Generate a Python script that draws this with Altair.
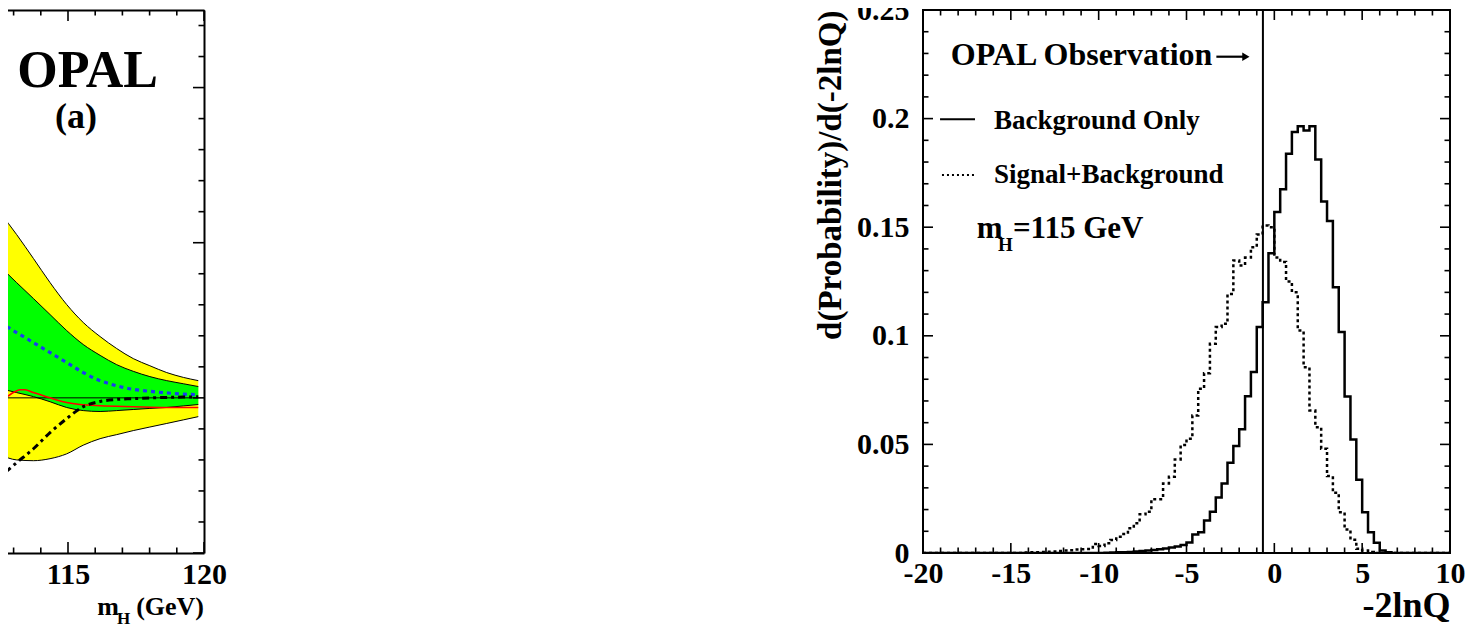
import altair as alt
import pandas as pd

FONT = "Liberation Serif"

# ---- panel (a): -2lnQ against m_H, only its right end is in the picture ----
MH = [112.50, 113.11, 113.73, 114.34, 114.95, 115.56, 116.18, 116.79, 117.40, 118.01, 118.63, 119.24, 119.79]
YELLOW_HI = [11.95, 10.53, 8.98, 7.43, 6.02, 4.86, 3.95, 3.18, 2.53, 2.07, 1.63, 1.32, 1.11]
GREEN_HI = [8.47, 7.43, 6.40, 5.37, 4.34, 3.44, 2.74, 2.14, 1.71, 1.37, 1.11, 0.91, 0.73]
GREEN_LO = [0.60, 0.34, 0.08, -0.25, -0.62, -0.82, -0.88, -0.82, -0.75, -0.68, -0.62, -0.52, -0.43]
YELLOW_LO = [-3.66, -4.00, -4.05, -3.92, -3.61, -3.05, -2.63, -2.37, -2.11, -1.88, -1.65, -1.42, -1.21]
EXP_BG = [4.86, 4.21, 3.56, 2.92, 2.28, 1.63, 1.11, 0.78, 0.55, 0.42, 0.32, 0.24, 0.21]
EXP_SB = [-5.10, -4.18, -3.28, -2.24, -1.34, -0.57, -0.23, -0.10, -0.05, 0.0, 0.03, 0.05, 0.07]
OBS_MH = [112.50, 112.75, 112.99, 113.24, 113.42, 113.73, 114.34, 114.95, 115.44, 116.18, 117.40, 118.63, 119.79]
OBS_Q = [-0.05, 0.08, 0.34, 0.52, 0.52, 0.34, 0.0, -0.30, -0.43, -0.51, -0.57, -0.62, -0.62]
ZERO_MH = [112.50, 119.79]
ZERO_Q = [0.0, 0.0]

MH_MAJOR = [115, 120]
MH_MINOR = [113, 114, 116, 117, 118, 119]
Q_MAJOR = [-10, 0, 10, 20]
Q_MINOR = [-8, -6, -4, -2, 2, 4, 6, 8, 12, 14, 16, 18, 22, 24]

# ---- panel (b): -2lnQ distributions for m_H = 115 GeV, bins of 1/3 from -20 ----
BIN_START = -20.0
BIN_WIDTH = 1 / 3
BG_ONLY = [
    0, 0, 0, 0, 0, 0, 0, 0, 0, 0,
    0, 0, 0, 0, 0, 0, 0, 0, 0, 0,
    0, 0, 0, 0, 0, 0, 0, 0, 0, 0,
    0.0, 0.0001, 0.0002, 0.0003, 0.0004, 0.0005, 0.0007, 0.0009, 0.0011, 0.0014,
    0.0017, 0.0021, 0.0025, 0.0030, 0.0037, 0.0048, 0.0085, 0.0095, 0.0150, 0.0190,
    0.0255, 0.0320, 0.0415, 0.0493, 0.0570, 0.0722, 0.0833, 0.1040, 0.1155, 0.1380,
    0.1570, 0.1675, 0.1838, 0.1938, 0.1965, 0.1945, 0.1965, 0.1812, 0.1618, 0.1528,
    0.1224, 0.1017, 0.0721, 0.0523, 0.0337, 0.0188, 0.0096, 0.0047, 0.0012, 0.0004,
    0, 0, 0, 0, 0, 0, 0, 0, 0, 0,
]
SIG_BG = [
    0, 0, 0, 0, 0, 0, 0, 0, 0, 0,
    0, 0, 0, 0, 0, 0, 0, 0.0002, 0.0003, 0.0004,
    0.0005, 0.0006, 0.0007, 0.0009, 0.0011, 0.0013, 0.0016, 0.0017, 0.0018, 0.0041,
    0.0032, 0.0045, 0.0060, 0.0075, 0.0087, 0.0114, 0.0137, 0.0178, 0.0190, 0.0248,
    0.0248, 0.0320, 0.0351, 0.0431, 0.0497, 0.0526, 0.0633, 0.0756, 0.0828, 0.0963,
    0.1040, 0.1055, 0.1193, 0.1347, 0.1324, 0.1360, 0.1408, 0.1466, 0.1508, 0.1500,
    0.1360, 0.1340, 0.1250, 0.1200, 0.1024, 0.0855, 0.0656, 0.0579, 0.0480, 0.0354,
    0.0277, 0.0188, 0.0108, 0.0061, 0.0019, 0.0012, 0.0005, 0, 0, 0,
    0, 0, 0, 0, 0, 0, 0, 0, 0, 0,
]
OBSERVED = -0.65

X_MAJOR = [-20, -15, -10, -5, 0, 5, 10]
X_MINOR = [-19, -18, -17, -16, -14, -13, -12, -11, -9, -8, -7, -6, -4, -3, -2, -1,
           1, 2, 3, 4, 6, 7, 8, 9]
Y_MAJOR = [0, 0.05, 0.1, 0.15, 0.2, 0.25]
Y_MINOR = [0.01, 0.02, 0.03, 0.04, 0.06, 0.07, 0.08, 0.09, 0.11, 0.12, 0.13, 0.14,
           0.16, 0.17, 0.18, 0.19, 0.21, 0.22, 0.23, 0.24]

LW, LH = 204, 543
RW, RH = 527, 543

LX = alt.Scale(domain=[112.5, 120], nice=False, zero=False)
LY = alt.Scale(domain=[-10, 25], nice=False, zero=False)
RX = alt.Scale(domain=[-20, 10], nice=False, zero=False)
RY = alt.Scale(domain=[0, 0.25], nice=False, zero=False)

ONE = pd.DataFrame({"_": [0]})


def xticks(values, scale, height, size, side):
    ends = (height, height - size) if side == "bottom" else (0, size)
    return alt.Chart(pd.DataFrame({"t": values})).mark_rule(color="black", strokeWidth=1.6).encode(
        x=alt.X("t:Q", scale=scale, axis=None),
        y=alt.value(ends[0]),
        y2=alt.value(ends[1]),
    )


def yticks(values, scale, width, size, side):
    ends = (0, size) if side == "left" else (width, width - size)
    return alt.Chart(pd.DataFrame({"t": values})).mark_rule(color="black", strokeWidth=1.6).encode(
        y=alt.Y("t:Q", scale=scale, axis=None),
        x=alt.value(ends[0]),
        x2=alt.value(ends[1]),
    )


def note(text, x, y, sx, sy, size, align="left"):
    return alt.Chart(ONE).mark_text(
        text=text, font=FONT, fontSize=size, fontWeight="bold", align=align,
        baseline="alphabetic", color="black"
    ).encode(
        x=alt.XDatum(x, scale=sx, axis=None),
        y=alt.YDatum(y, scale=sy, axis=None),
    )


# ---------------- left panel ----------------
band = pd.DataFrame({
    "mh": MH, "yhi": YELLOW_HI, "ghi": GREEN_HI, "glo": GREEN_LO, "ylo": YELLOW_LO,
    "bg": EXP_BG, "sb": EXP_SB,
})
frame = dict(domainColor="black", domainWidth=2, ticks=False, grid=False, title=None)

yellow = alt.Chart(band).mark_area(color="#ffff00", opacity=1, clip=True, interpolate="monotone").encode(
    x=alt.X("mh:Q", scale=LX, axis=alt.Axis(
        orient="bottom", values=MH_MAJOR, labelFont=FONT, labelFontSize=30, labelFontWeight="bold",
        labelColor="black", labelPadding=6, labelFlush=False, labelOverlap=False, **frame)),
    y=alt.Y("yhi:Q", scale=LY, axis=alt.Axis(orient="right", labels=False, **frame)),
    y2="ylo:Q",
)
green = alt.Chart(band).mark_area(color="#00ff00", opacity=1, clip=True, interpolate="monotone").encode(
    x=alt.X("mh:Q", scale=LX, axis=alt.Axis(orient="top", labels=False, **frame)),
    y=alt.Y("ghi:Q", scale=LY, axis=None),
    y2="glo:Q",
)
edges = alt.Chart(band).transform_fold(["yhi", "ghi", "glo", "ylo"]).mark_line(
    color="black", strokeWidth=1, clip=True, interpolate="monotone"
).encode(
    x=alt.X("mh:Q", scale=LX, axis=None),
    y=alt.Y("value:Q", scale=LY, axis=None),
    detail="key:N",
)
zero = alt.Chart(pd.DataFrame({"mh": ZERO_MH, "q": ZERO_Q})).mark_line(
    color="black", strokeWidth=1, clip=True
).encode(x=alt.X("mh:Q", scale=LX, axis=None), y=alt.Y("q:Q", scale=LY, axis=None))
exp_bg = alt.Chart(band).mark_line(
    color="#1a3cf0", strokeWidth=3.2, strokeDash=[4, 4], clip=True, interpolate="monotone"
).encode(x=alt.X("mh:Q", scale=LX, axis=None), y=alt.Y("bg:Q", scale=LY, axis=None))
exp_sb = alt.Chart(band).mark_line(
    color="black", strokeWidth=3, strokeDash=[3, 4, 7, 4], clip=True, interpolate="monotone"
).encode(x=alt.X("mh:Q", scale=LX, axis=None), y=alt.Y("sb:Q", scale=LY, axis=None))
observed = alt.Chart(pd.DataFrame({"mh": OBS_MH, "q": OBS_Q})).mark_line(
    color="#ff0000", strokeWidth=1.6, clip=True, interpolate="monotone"
).encode(x=alt.X("mh:Q", scale=LX, axis=None), y=alt.Y("q:Q", scale=LY, axis=None))

left = alt.layer(
    yellow, green, edges, zero, exp_bg, observed, exp_sb,
    note("OPAL", 115.72, 20.04, LX, LY, 52, "center"),
    note("(a)", 115.29, 17.39, LX, LY, 36, "center"),
    note("m", 116.875, -14.0, LX, LY, 26, "right"),
    note("H", 116.80, -14.6, LX, LY, 17),
    note("(GeV)", 120.0, -14.0, LX, LY, 26, "right"),
    xticks(MH_MAJOR, LX, LH, 11, "bottom"),
    xticks(MH_MINOR, LX, LH, 5.5, "bottom"),
    xticks(MH_MAJOR, LX, LH, 11, "top"),
    xticks(MH_MINOR, LX, LH, 5.5, "top"),
    yticks(Q_MAJOR, LY, LW, 11, "right"),
    yticks(Q_MINOR, LY, LW, 5.5, "right"),
).resolve_axis(x="independent", y="independent").properties(width=LW, height=LH)

# ---------------- right panel ----------------
bin_edges = [BIN_START + i * BIN_WIDTH for i in range(len(BG_ONLY) + 1)]
hist = pd.DataFrame({"x": bin_edges, "bg": BG_ONLY + BG_ONLY[-1:], "sb": SIG_BG + SIG_BG[-1:]})

sb_hist = alt.Chart(hist).mark_line(
    color="black", strokeWidth=2.5, strokeDash=[3, 3], interpolate="step-after", clip=True
).encode(
    x=alt.X("x:Q", scale=RX, axis=alt.Axis(
        values=X_MAJOR, labelExpr="'' + datum.value", ticks=False, domain=False, grid=False,
        labelFont=FONT, labelFontSize=30, labelFontWeight="bold", labelColor="black",
        labelPadding=5, labelFlush=False, labelOverlap=False,
        title="-2lnQ", titleFont=FONT, titleFontSize=36, titleFontWeight="bold", titleColor="black",
        titleAnchor="end", titlePadding=0)),
    y=alt.Y("sb:Q", scale=RY, axis=alt.Axis(
        values=Y_MAJOR, labelExpr="'' + datum.value", ticks=False, domain=False, grid=False,
        labelFont=FONT, labelFontSize=30, labelFontWeight="bold", labelColor="black",
        labelPadding=14, labelFlush=False, labelOverlap=False,
        title="d(Probability)/d(-2lnQ)", titleFont=FONT, titleFontSize=33, titleFontWeight="bold",
        titleColor="black", titleAnchor="end", titlePadding=9)),
)
bg_hist = alt.Chart(hist).mark_line(
    color="black", strokeWidth=2.5, interpolate="step-after", clip=True
).encode(x=alt.X("x:Q", scale=RX, axis=None), y=alt.Y("bg:Q", scale=RY, axis=None))

obs_line = alt.Chart(ONE).mark_rule(color="black", strokeWidth=2).encode(
    x=alt.XDatum(OBSERVED, scale=RX, axis=None)
)
key_solid = alt.Chart(ONE).mark_rule(color="black", strokeWidth=2).encode(
    x=alt.XDatum(-19.03, scale=RX, axis=None), x2=alt.X2Datum(-17.04),
    y=alt.YDatum(0.1997, scale=RY, axis=None),
)
key_dotted = alt.Chart(ONE).mark_rule(color="black", strokeWidth=2, strokeDash=[2, 3]).encode(
    x=alt.XDatum(-18.92, scale=RX, axis=None), x2=alt.X2Datum(-17.04),
    y=alt.YDatum(0.1740, scale=RY, axis=None),
)
# arrow pointing from the label to the observed value
arrow_shaft = alt.Chart(ONE).mark_rule(color="black", strokeWidth=2.2).encode(
    x=alt.XDatum(-3.30, scale=RX, axis=None), x2=alt.X2Datum(-1.75),
    y=alt.YDatum(0.2285, scale=RY, axis=None),
)
arrow_head = alt.Chart(ONE).mark_point(
    shape="triangle-right", filled=True, color="black", opacity=1, size=70
).encode(
    x=alt.XDatum(-1.62, scale=RX, axis=None),
    y=alt.YDatum(0.2285, scale=RY, axis=None),
)

right = alt.layer(
    sb_hist, bg_hist, obs_line, key_solid, key_dotted, arrow_shaft, arrow_head,
    note("OPAL Observation", -18.42, 0.2245, RX, RY, 32),
    note("Background Only", -15.96, 0.1951, RX, RY, 27),
    note("Signal+Background", -15.96, 0.1705, RX, RY, 27),
    note("m", -16.94, 0.1452, RX, RY, 31),
    note("H", -15.73, 0.1390, RX, RY, 19),
    note("=115 GeV", -14.88, 0.1452, RX, RY, 31),
    xticks(X_MAJOR, RX, RH, 10, "bottom"),
    xticks(X_MINOR, RX, RH, 5.5, "bottom"),
    xticks(X_MAJOR, RX, RH, 10, "top"),
    xticks(X_MINOR, RX, RH, 5.5, "top"),
    yticks(Y_MAJOR, RY, RW, 10, "left"),
    yticks(Y_MINOR, RY, RW, 5.5, "left"),
    yticks(Y_MAJOR, RY, RW, 10, "right"),
    yticks(Y_MINOR, RY, RW, 5.5, "right"),
).resolve_axis(x="independent", y="independent").properties(
    width=RW, height=RH, view=alt.ViewBackground(stroke="black", strokeWidth=2)
)

chart = alt.hconcat(left, right, spacing=719, bounds="flush").properties(
    padding={"left": -9, "top": -14, "right": 0, "bottom": 0}
).configure_view(
    stroke="transparent"
).configure_axis(
    labelFont=FONT, titleFont=FONT
)

chart.save("out.html", embed_options={"renderer": "svg", "actions": False})
